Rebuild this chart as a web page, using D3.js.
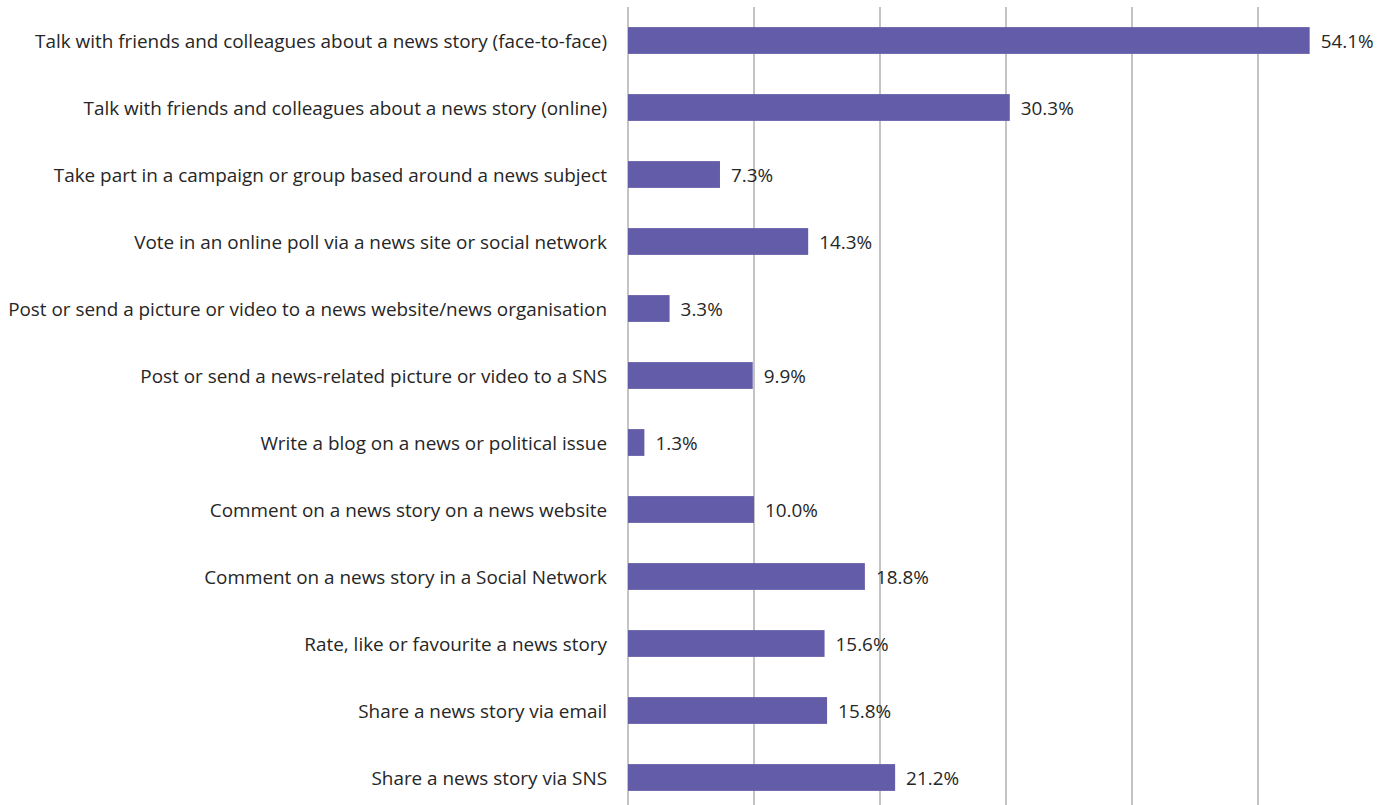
<!DOCTYPE html>
<html>
<head>
<meta charset="utf-8">
<script src="https://cdn.jsdelivr.net/npm/d3@7"></script>
<style>
  html, body { margin: 0; padding: 0; background: #fff; }
  svg { display: block; }
  text { font-family: "Open Sans", Lato, sans-serif; fill: #262626; }
</style>
</head>
<body>
<svg id="chart" width="1391" height="805"></svg>
<script>
// Share of respondents who took part in each news-related activity
const activities = [
  "Talk with friends and colleagues about a news story (face-to-face)",
  "Talk with friends and colleagues about a news story (online)",
  "Take part in a campaign or group based around a news subject",
  "Vote in an online poll via a news site or social network",
  "Post or send a picture or video to a news website/news organisation",
  "Post or send a news-related picture or video to a SNS",
  "Write a blog on a news or political issue",
  "Comment on a news story on a news website",
  "Comment on a news story in a Social Network ",
  "Rate, like or favourite a news story",
  "Share a news story via email",
  "Share a news story via SNS"
];
const percentages = [54.1, 30.3, 7.3, 14.3, 3.3, 9.9, 1.3, 10.0, 18.8, 15.6, 15.8, 21.2];
const gridTicks = [0, 10, 20, 30, 40, 50];

const svg = d3.select("#chart");
const margin = { top: 7, left: 628, right: 7 };
const plotWidth = 756;   // 0–60 %
const plotHeight = 804;

const x = d3.scaleLinear().domain([0, 60]).range([margin.left, margin.left + plotWidth]);
const y = d3.scaleBand().domain(activities).range([margin.top, margin.top + plotHeight]).paddingInner(0.6).paddingOuter(0.3);

// vertical gridlines
svg.append("g")
  .selectAll("line")
  .data(gridTicks)
  .join("line")
  .attr("x1", d => x(d)).attr("x2", d => x(d))
  .attr("y1", margin.top).attr("y2", 805)
  .attr("stroke", "#ababab")
  .attr("stroke-width", 1.4);

// bars
svg.append("g")
  .selectAll("rect")
  .data(activities)
  .join("rect")
  .attr("x", x(0))
  .attr("y", d => y(d))
  .attr("width", (d, i) => x(percentages[i]) - x(0))
  .attr("height", y.bandwidth())
  .attr("fill", "#635ca8");

// category labels
svg.append("g")
  .selectAll("text")
  .data(activities)
  .join("text")
  .attr("x", x(0) - 21)
  .attr("y", d => y(d) + y.bandwidth() / 2)
  .attr("text-anchor", "end")
  .attr("dominant-baseline", "central")
  .style("font-size", "18.9px")
  .text(d => d);

// value labels
svg.append("g")
  .selectAll("text")
  .data(activities)
  .join("text")
  .attr("x", (d, i) => x(percentages[i]) + 11)
  .attr("y", d => y(d) + y.bandwidth() / 2)
  .attr("dominant-baseline", "central")
  .style("font-size", "18.9px")
  .text((d, i) => percentages[i].toFixed(1) + "%");
</script>
</body>
</html>
